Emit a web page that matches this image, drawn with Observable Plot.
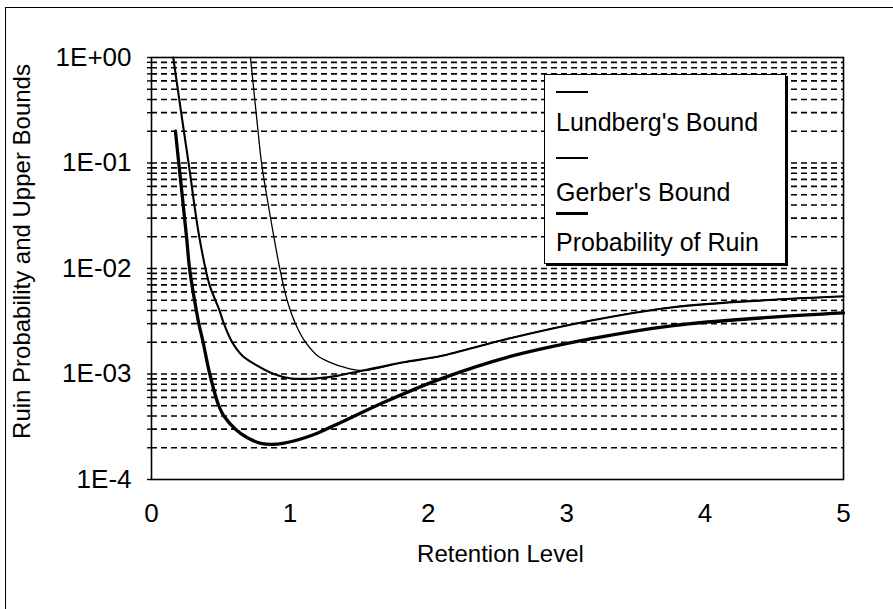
<!DOCTYPE html>
<html>
<head>
<meta charset="utf-8">
<script src="https://cdn.jsdelivr.net/npm/d3@7"></script>
<script src="https://cdn.jsdelivr.net/npm/@observablehq/plot@0.6"></script>
<style>
  body { margin: 0; background: #fff; }
  #wrap { position: relative; width: 893px; height: 609px; overflow: hidden; background: #fff; }
  #border { position: absolute; left: 5px; top: 7px; width: 900px; height: 620px;
            border-left: 1.6px solid #000; border-top: 1.6px solid #000; pointer-events: none; }
  #legend { position: absolute; left: 544px; top: 74px; width: 240px; height: 188px;
            background: #fff; border: 1.5px solid #000; box-shadow: 2px 2px 0 #000;
            font-family: "Liberation Sans", Arial, sans-serif; font-size: 25px; color: #000; }
  .item { position: absolute; left: 11px; }
  .sw { position: absolute; left: 11px; width: 32px; background: #000; }
</style>
</head>
<body>
<div id="wrap">
  <div id="chart"></div>
  <div id="border"></div>
  <div id="legend"></div>
</div>
<script>
// Data
const lundbergX = [0.715, 0.77, 0.795, 0.884, 0.927, 0.98, 1.04, 1.113, 1.197, 1.29, 1.39, 1.53, 1.82, 2.09, 2.57, 3.17, 3.77, 4.49, 5.0];
const lundbergY = [1, 0.2, 0.1, 0.02, 0.01, 0.005, 0.003, 0.002, 0.0015, 0.00129, 0.00116, 0.00108, 0.00129, 0.00148, 0.00215, 0.0032, 0.0043, 0.00505, 0.00545];

const gerberX = [0.157, 0.234, 0.268, 0.345, 0.419, 0.462, 0.491, 0.523, 0.583, 0.655, 0.764, 0.884, 1.0, 1.1, 1.2, 1.34, 1.53, 1.82, 2.09, 2.57, 3.17, 3.77, 4.49, 5.0];
const gerberY = [1, 0.2, 0.1, 0.02, 0.007, 0.005, 0.004, 0.003, 0.002, 0.0015, 0.0012, 0.001, 0.00091, 0.0009, 0.00091, 0.00096, 0.00108, 0.00129, 0.00148, 0.00215, 0.0032, 0.0043, 0.00505, 0.00545];

const ruinX = [0.173, 0.197, 0.253, 0.275, 0.311, 0.342, 0.373, 0.421, 0.486, 0.523, 0.607, 0.69, 0.79, 0.87, 0.95, 1.15, 1.32, 1.68, 2.09, 2.57, 3.17, 3.77, 4.49, 5.0];
const ruinY = [0.2, 0.1, 0.02, 0.01, 0.005, 0.003, 0.002, 0.001, 0.0005, 0.0004, 0.0003, 0.00025, 0.00022, 0.000215, 0.00022, 0.00026, 0.000325, 0.00054, 0.0009, 0.00144, 0.00215, 0.00288, 0.00346, 0.0038];

const seriesNames = ["Lundberg's Bound", "Gerber's Bound", "Probability of Ruin"];
const seriesWidths = [1.3, 2.1, 3.3];

const xTicks = [0, 1, 2, 3, 4, 5];
const yTickValues = [1, 0.1, 0.01, 0.001, 0.0001];
const yTickLabels = ["1E+00", "1E-01", "1E-02", "1E-03", "1E-4"];
const decades = [0.0001, 0.001, 0.01, 0.1];
const multipliers = [1, 2, 3, 4, 5, 6, 7, 8, 9];

const xLabel = "Retention Level";
const yLabel = "Ruin Probability and Upper Bounds";

// Build tables
const toRows = (xs, ys) => xs.map((x, i) => ({x, y: ys[i]}));
const lundberg = toRows(lundbergX, lundbergY);
const gerber = toRows(gerberX, gerberY);
const ruin = toRows(ruinX, ruinY);
const gridValues = decades.flatMap(d => multipliers.map(m => m * d)).filter(v => v > 0.0001 * 1.0001);
const allTicks = [0.0001, ...gridValues, 1];
const fmtY = d => {
  const i = yTickValues.findIndex(v => Math.abs(Math.log10(v) - Math.log10(d)) < 1e-6);
  return i >= 0 ? yTickLabels[i] : "";
};

const font = '"Liberation Sans", Arial, sans-serif';
const chart = Plot.plot({
  width: 893,
  height: 609,
  marginLeft: 151,
  marginRight: 50,
  marginTop: 57,
  marginBottom: 130,
  style: {fontFamily: font, fontSize: "25px", color: "#000", background: "transparent", overflow: "visible"},
  x: {domain: [0, 5]},
  y: {type: "log", domain: [0.0001, 1]},
  marks: [
    Plot.ruleY(gridValues, {stroke: "#000", strokeWidth: 1.6, strokeDasharray: "6,4"}),
    Plot.line(lundberg, {x: "x", y: "y", stroke: "#000", strokeWidth: seriesWidths[0], curve: "catmull-rom"}),
    Plot.line(gerber, {x: "x", y: "y", stroke: "#000", strokeWidth: seriesWidths[1], curve: "catmull-rom"}),
    Plot.line(ruin, {x: "x", y: "y", stroke: "#000", strokeWidth: seriesWidths[2], curve: "catmull-rom"}),
    Plot.frame({stroke: "#000", strokeWidth: 1.6}),
    Plot.axisX({ticks: xTicks, tickSize: 0, tickPadding: 24, tickFormat: d => String(d), label: null, fontSize: 26}),
    Plot.axisY({ticks: allTicks, tickSize: 4, tickPadding: 16, tickFormat: fmtY, label: null, fontSize: 26, strokeWidth: 1.4}),
    Plot.text([xLabel], {text: d => d, frameAnchor: "bottom", lineAnchor: "middle", textAnchor: "middle", dx: 3, dy: 75, fontSize: 24, fill: "#000"}),
    Plot.text([yLabel], {text: d => d, frameAnchor: "left", textAnchor: "middle", lineAnchor: "middle", rotate: -90, dx: -129, dy: -17, fontSize: 24, fill: "#000"})
  ]
});
document.getElementById("chart").appendChild(chart);

// Legend overlay
const legend = document.getElementById("legend");
const swatchTops = [16, 82, 137];
const textTops = [33, 103, 153];
seriesNames.forEach((name, i) => {
  const sw = document.createElement("div");
  sw.className = "sw";
  sw.style.top = swatchTops[i] + "px";
  sw.style.height = Math.max(1.5, seriesWidths[i]) + "px";
  legend.appendChild(sw);
  const t = document.createElement("div");
  t.className = "item";
  t.style.top = textTops[i] + "px";
  t.textContent = name;
  legend.appendChild(t);
});
</script>
</body>
</html>
